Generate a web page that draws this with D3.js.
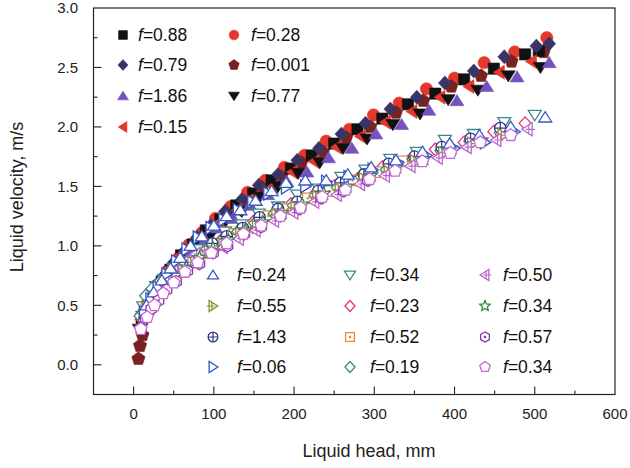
<!DOCTYPE html>
<html lang="en">
<head>
<meta charset="UTF-8" />
<title>Liquid velocity vs liquid head</title>
<script src="https://d3js.org/d3.v7.min.js"></script>
<style>
  body { margin: 0; background: #fff; font-family: Arial, "Liberation Sans", sans-serif; }
  svg { display: block; }
</style>
</head>
<body>
<svg width="630" height="468"></svg>
<script>
// ---- data (h in mm, v in m/s) ----
const xTicks = [0, 100, 200, 300, 400, 500, 600];
const yTicks = [0, 0.5, 1, 1.5, 2, 2.5, 3];

// filled markers (upper band)
const h_088 = [505, 488, 449, 412, 376, 342, 310, 279, 250, 222, 196, 172, 149, 128, 108, 90, 74, 59, 46, 35, 25, 17, 10];
const v_088 = [2.64, 2.61, 2.49, 2.40, 2.28, 2.19, 2.07, 1.98, 1.86, 1.76, 1.65, 1.55, 1.44, 1.34, 1.22, 1.13, 1.01, 0.92, 0.80, 0.70, 0.59, 0.49, 0.38];
const h_079 = [518, 502, 462, 424, 388, 353, 320, 289, 259, 231, 204, 180, 156, 135, 114, 96, 79, 64, 50, 38, 28, 19, 12];
const v_079 = [2.70, 2.68, 2.59, 2.47, 2.37, 2.25, 2.15, 2.03, 1.94, 1.82, 1.72, 1.60, 1.51, 1.39, 1.29, 1.17, 1.07, 0.96, 0.86, 0.75, 0.64, 0.53, 0.43];
const h_186 = [518, 478, 440, 403, 368, 334, 302, 272, 243, 216, 191, 167, 145, 124, 105, 88, 72, 58, 45, 34, 25, 17];
const v_186 = [2.54, 2.42, 2.34, 2.22, 2.14, 2.02, 1.94, 1.82, 1.74, 1.62, 1.54, 1.43, 1.34, 1.23, 1.15, 1.04, 0.95, 0.85, 0.75, 0.65, 0.56, 0.46];
const h_015 = [496, 456, 418, 382, 347, 314, 283, 253, 225, 198, 174, 150, 129, 108, 90, 73, 58, 44, 33, 23, 15, 9];
const v_015 = [2.55, 2.46, 2.34, 2.25, 2.13, 2.04, 1.92, 1.83, 1.71, 1.62, 1.50, 1.41, 1.30, 1.20, 1.09, 0.98, 0.92, 0.81, 0.71, 0.60, 0.49, 0.38];
const h_028 = [515, 475, 437, 400, 365, 331, 299, 269, 240, 213, 188, 164, 142, 121, 102, 85, 69, 55, 42, 31, 22, 14];
const v_028 = [2.75, 2.63, 2.54, 2.41, 2.32, 2.20, 2.10, 1.98, 1.88, 1.76, 1.66, 1.55, 1.45, 1.33, 1.23, 1.11, 1.01, 0.89, 0.79, 0.68, 0.58, 0.46];
const h_0001 = [511, 471, 433, 396, 361, 327, 295, 265, 236, 209, 184, 160, 138, 117, 98, 81, 65, 51, 38, 27, 18, 11, 8, 6];
const v_0001 = [2.63, 2.55, 2.43, 2.34, 2.22, 2.12, 2.00, 1.91, 1.79, 1.70, 1.58, 1.49, 1.37, 1.27, 1.15, 1.06, 0.94, 0.84, 0.72, 0.61, 0.48, 0.25, 0.16, 0.05];
const h_077 = [507, 467, 429, 392, 357, 323, 291, 261, 232, 205, 180, 157, 135, 115, 96, 79, 64, 50, 38, 28, 19, 12, 7];
const v_077 = [2.50, 2.43, 2.31, 2.23, 2.11, 2.02, 1.90, 1.82, 1.70, 1.61, 1.50, 1.41, 1.29, 1.21, 1.09, 1.00, 0.89, 0.80, 0.68, 0.60, 0.48, 0.39, 0.30];

// open markers (lower band)
const h_024 = [513, 470, 431, 394, 360, 327, 296, 267, 240, 214, 190, 172, 152, 133, 116, 100, 85, 71, 58, 46, 35, 25, 16];
const v_024 = [2.08, 2.00, 1.93, 1.86, 1.79, 1.72, 1.66, 1.60, 1.55, 1.55, 1.53, 1.46, 1.38, 1.30, 1.25, 1.17, 1.08, 1.00, 0.90, 0.81, 0.71, 0.61, 0.50];
const h_055 = [460, 422, 386, 351, 318, 287, 257, 229, 202, 178, 154, 133, 112, 94, 77, 62, 48, 36, 26, 17];
const v_055 = [1.93, 1.86, 1.78, 1.71, 1.62, 1.56, 1.47, 1.41, 1.32, 1.26, 1.16, 1.10, 1.01, 0.95, 0.86, 0.80, 0.71, 0.65, 0.56, 0.49];
const h_143 = [457, 420, 384, 350, 318, 287, 258, 230, 204, 180, 157, 136, 116, 98, 82, 67, 54, 42, 32, 24];
const v_143 = [1.99, 1.90, 1.83, 1.75, 1.69, 1.60, 1.53, 1.46, 1.37, 1.31, 1.24, 1.15, 1.08, 1.02, 0.92, 0.86, 0.80, 0.71, 0.65, 0.57];
const h_006 = [475, 438, 400, 365, 330, 298, 268, 240, 214, 190, 168, 148, 130, 112, 96, 80, 66, 53, 41, 30, 21, 13];
const v_006 = [1.96, 1.87, 1.82, 1.76, 1.70, 1.64, 1.58, 1.54, 1.50, 1.49, 1.44, 1.37, 1.30, 1.22, 1.15, 1.07, 0.97, 0.87, 0.76, 0.65, 0.55, 0.44];
const h_034a = [500, 462, 424, 388, 353, 320, 289, 259, 231, 204, 180, 156, 135, 114, 96, 79, 64, 50, 38, 28, 19, 12];
const v_034a = [2.10, 2.04, 1.94, 1.89, 1.79, 1.73, 1.64, 1.58, 1.48, 1.43, 1.33, 1.27, 1.18, 1.12, 1.02, 0.97, 0.87, 0.81, 0.72, 0.66, 0.56, 0.49];
const h_023 = [488, 449, 412, 376, 342, 310, 279, 250, 222, 196, 172, 149, 128, 108, 90, 74, 59, 46, 35, 25, 17, 10];
const v_023 = [2.03, 1.96, 1.87, 1.81, 1.71, 1.66, 1.56, 1.50, 1.41, 1.35, 1.25, 1.20, 1.10, 1.04, 0.95, 0.89, 0.80, 0.74, 0.66, 0.59, 0.51, 0.43];
const h_052 = [335, 303, 273, 244, 217, 192, 168, 146, 125, 106, 88, 72, 58, 45, 34, 24, 16];
const v_052 = [1.71, 1.62, 1.55, 1.46, 1.40, 1.31, 1.25, 1.16, 1.10, 1.01, 0.94, 0.86, 0.79, 0.70, 0.64, 0.55, 0.48];
const h_019 = [457, 419, 383, 348, 315, 284, 254, 226, 199, 175, 151, 130, 109, 91, 74, 59, 45, 33, 23, 15, 8];
const v_019 = [1.95, 1.88, 1.80, 1.73, 1.64, 1.58, 1.49, 1.42, 1.34, 1.27, 1.19, 1.12, 1.04, 0.97, 0.90, 0.83, 0.76, 0.70, 0.64, 0.58, 0.41];
const h_050 = [491, 452, 415, 379, 345, 313, 282, 253, 225, 199, 175, 152, 131, 111, 93, 77, 62, 49, 38, 28, 20];
const v_050 = [1.98, 1.89, 1.83, 1.74, 1.67, 1.59, 1.52, 1.43, 1.37, 1.28, 1.21, 1.13, 1.06, 0.99, 0.95, 0.93, 0.86, 0.78, 0.70, 0.62, 0.54];
const h_034b = [434, 397, 362, 328, 296, 266, 237, 210, 185, 161, 139, 118, 99, 82, 66, 52, 39, 28, 19, 11];
const v_034b = [1.89, 1.82, 1.73, 1.66, 1.59, 1.50, 1.44, 1.35, 1.28, 1.20, 1.13, 1.05, 0.98, 0.90, 0.82, 0.75, 0.67, 0.59, 0.52, 0.43];
const h_057 = [292, 262, 234, 207, 183, 159, 138, 117, 99, 82, 67, 53, 41, 31, 22, 15, 9];
const v_057 = [1.55, 1.46, 1.40, 1.31, 1.25, 1.16, 1.10, 1.00, 0.94, 0.85, 0.79, 0.70, 0.63, 0.54, 0.47, 0.39, 0.31];
const h_034c = [470, 432, 395, 360, 326, 294, 264, 235, 208, 183, 159, 137, 116, 97, 80, 64, 50, 37, 26, 17, 9];
const v_034c = [1.93, 1.87, 1.78, 1.71, 1.63, 1.56, 1.47, 1.41, 1.32, 1.25, 1.17, 1.10, 1.02, 0.94, 0.86, 0.78, 0.69, 0.60, 0.50, 0.40, 0.30];

// series table: draw order = array order
const series = [
  { id: "s028",  label: "0.28",  h: h_028,  v: v_028,  shape: "circle",    color: "#e5372b", filled: true },
  { id: "s0001", label: "0.001", h: h_0001, v: v_0001, shape: "pentagon",  color: "#7a2221", filled: true },
  { id: "s088",  label: "0.88",  h: h_088,  v: v_088,  shape: "square",    color: "#111111", filled: true },
  { id: "s079",  label: "0.79",  h: h_079,  v: v_079,  shape: "diamond",   color: "#3a3466", filled: true },
  { id: "s015",  label: "0.15",  h: h_015,  v: v_015,  shape: "triLeft",   color: "#e5372b", filled: true },
  { id: "s077",  label: "0.77",  h: h_077,  v: v_077,  shape: "triDown",   color: "#111111", filled: true },
  { id: "s186",  label: "1.86",  h: h_186,  v: v_186,  shape: "triUp",     color: "#7652bd", filled: true },
  { id: "s034a", label: "0.34",  h: h_034a, v: v_034a, shape: "triDown",   color: "#3c8b8c", filled: false },
  { id: "s023",  label: "0.23",  h: h_023,  v: v_023,  shape: "diamond",   color: "#e8347c", filled: false },
  { id: "s052",  label: "0.52",  h: h_052,  v: v_052,  shape: "squareDot", color: "#f08a36", filled: false },
  { id: "s019",  label: "0.19",  h: h_019,  v: v_019,  shape: "diamond",   color: "#3c8a86", filled: false },
  { id: "s143",  label: "1.43",  h: h_143,  v: v_143,  shape: "circlePlus",color: "#2f3487", filled: false },
  { id: "s055",  label: "0.55",  h: h_055,  v: v_055,  shape: "triRightX", color: "#8c8a2e", filled: false },
  { id: "s050",  label: "0.50",  h: h_050,  v: v_050,  shape: "triLeftX",  color: "#b968cc", filled: false },
  { id: "s034b", label: "0.34",  h: h_034b, v: v_034b, shape: "star",      color: "#3a8a3c", filled: false },
  { id: "s006",  label: "0.06",  h: h_006,  v: v_006,  shape: "triRight",  color: "#3354c4", filled: false },
  { id: "s024",  label: "0.24",  h: h_024,  v: v_024,  shape: "triUp",     color: "#3a5bc2", filled: false },
  { id: "s057",  label: "0.57",  h: h_057,  v: v_057,  shape: "hexagonDot",color: "#8a36a8", filled: false },
  { id: "s034c", label: "0.34",  h: h_034c, v: v_034c, shape: "pentagon",  color: "#c867d8", filled: false }
];

const legendTop = [["s088", "s079", "s186", "s015"], ["s028", "s0001", "s077"]];
const legendBottom = [["s024", "s055", "s143", "s006"], ["s034a", "s023", "s052", "s019"], ["s050", "s034b", "s057", "s034c"]];

// ---- layout ----
const svg = d3.select("svg");
const x = d3.scaleLinear().domain([-50, 600]).range([93.5, 615]);
const y = d3.scaleLinear().domain([-0.25, 3]).range([394.5, 8]);

// marker path for a shape of nominal width s
function shapePath(type, s) {
  const r = s / 2;
  const poly = pts => "M" + pts.map(p => p[0].toFixed(2) + "," + p[1].toFixed(2)).join("L") + "Z";
  const ngon = (n, rr, rot) => d3.range(n).map(i => {
    const a = rot + i * 2 * Math.PI / n;
    return [rr * Math.cos(a), rr * Math.sin(a)];
  });
  const t = r * 0.88;
  switch (type) {
    case "square": case "squareDot": { const q = r * 0.8; return poly([[-q, -q], [q, -q], [q, q], [-q, q]]); }
    case "diamond": return poly([[0, -r], [r * 0.92, 0], [0, r], [-r * 0.92, 0]]);
    case "triUp": return poly([[0, -t], [r, t * 0.8], [-r, t * 0.8]]);
    case "triDown": return poly([[0, t], [r, -t * 0.8], [-r, -t * 0.8]]);
    case "triLeft": case "triLeftX": return poly([[-t, 0], [t * 0.8, -r], [t * 0.8, r]]);
    case "triRight": case "triRightX": return poly([[t, 0], [-t * 0.8, -r], [-t * 0.8, r]]);
    case "circle": case "circlePlus": { const c = r * 0.88; return `M${c},0A${c},${c} 0 1,1 ${-c},0A${c},${c} 0 1,1 ${c},0Z`; }
    case "pentagon": return poly(ngon(5, r, -Math.PI / 2));
    case "hexagon": case "hexagonDot": return poly(ngon(6, r * 0.92, -Math.PI / 2));
    case "star": return poly(d3.range(10).map(i => {
      const a = -Math.PI / 2 + i * Math.PI / 5, rr = i % 2 ? r * 0.45 : r;
      return [rr * Math.cos(a), rr * Math.sin(a)];
    }));
  }
}

// inner decoration (crosses / dots)
function decoPath(type, s) {
  const r = s / 2;
  switch (type) {
    case "circlePlus": return `M${-r * 0.88},0H${r * 0.88}M0,${-r * 0.88}V${r * 0.88}`;
    case "triRightX": return `M${-r * 1.15},0H${r * 0.3}M${-r * 0.2},${-r * 0.75}V${r * 0.75}`;
    case "triLeftX": return `M${r * 1.15},0H${-r * 0.3}M${r * 0.2},${-r * 0.75}V${r * 0.75}`;
    default: return null;
  }
}
const hasDot = t => t === "squareDot" || t === "hexagonDot";

function drawMarker(g, d, s) {
  g.append("path")
    .attr("d", shapePath(d.shape, s))
    .attr("fill", d.filled ? d.color : "#fff")
    .attr("stroke", d.color)
    .attr("stroke-width", d.filled ? 0.6 : 1.3)
    .attr("stroke-linejoin", "miter");
  const dp = decoPath(d.shape, s);
  if (dp) g.append("path").attr("d", dp).attr("stroke", d.color).attr("stroke-width", 1.2).attr("fill", "none");
  if (hasDot(d.shape)) g.append("circle").attr("r", 1.3).attr("fill", d.color);
}

// ---- points ----
const plot = svg.append("g");
series.forEach(d => {
  const pts = d.h.map((h, i) => [h, d.v[i]]);
  plot.append("g").selectAll("g")
    .data(pts)
    .join("g")
    .attr("transform", p => `translate(${x(p[0])},${y(p[1])})`)
    .each(function () { drawMarker(d3.select(this), d, d.filled ? 14 : 13); });
});

// ---- frame and ticks ----
const [x0, x1] = x.range();
const [yb, yt] = y.range();
svg.append("rect")
  .attr("x", x0).attr("y", yt).attr("width", x1 - x0).attr("height", yb - yt)
  .attr("fill", "none").attr("stroke", "#222").attr("stroke-width", 1.2);

const xMinor = d3.range(50, 600, 100);
const yMinor = d3.range(0.25, 3, 0.5);
const ticks = svg.append("g").attr("stroke", "#222").attr("stroke-width", 1.1);
xTicks.slice(0, -1).forEach(t => ticks.append("line").attr("x1", x(t)).attr("x2", x(t)).attr("y1", yb).attr("y2", yb - 8));
xMinor.forEach(t => ticks.append("line").attr("x1", x(t)).attr("x2", x(t)).attr("y1", yb).attr("y2", yb - 4));
yTicks.slice(0, -1).forEach(t => ticks.append("line").attr("x1", x0).attr("x2", x0 + 8).attr("y1", y(t)).attr("y2", y(t)));
yMinor.forEach(t => ticks.append("line").attr("x1", x0).attr("x2", x0 + 4).attr("y1", y(t)).attr("y2", y(t)));

const labels = svg.append("g").attr("font-size", 15).attr("fill", "#222");
xTicks.forEach(t => labels.append("text").attr("x", x(t)).attr("y", 419).attr("text-anchor", "middle").text(t));
yTicks.forEach(t => labels.append("text").attr("x", 78).attr("y", y(t)).attr("dy", "0.36em").attr("text-anchor", "end").text(d3.format(".1f")(t)));

svg.append("text").attr("x", 369).attr("y", 457).attr("text-anchor", "middle")
  .attr("font-size", 18).attr("fill", "#222").text("Liquid head, mm");
svg.append("text").attr("transform", "translate(23,197) rotate(-90)").attr("text-anchor", "middle")
  .attr("font-size", 18).attr("fill", "#222").text("Liquid velocity, m/s");

// ---- legends ----
const byId = Object.fromEntries(series.map(d => [d.id, d]));
function legend(cols, colMarkerX, colTextX, rowY, size) {
  cols.forEach((col, ci) => col.forEach((id, ri) => {
    const d = byId[id];
    const g = svg.append("g").attr("transform", `translate(${colMarkerX[ci]},${rowY[ri]})`);
    drawMarker(g, d, size);
    const tx = svg.append("text").attr("x", colTextX[ci]).attr("y", rowY[ri]).attr("dy", "0.36em")
      .attr("font-size", 17.5).attr("fill", "#111");
    tx.append("tspan").attr("font-style", "italic").text("f");
    tx.append("tspan").text("=" + d.label);
  }));
}
legend(legendTop, [123, 234], [138, 251], [35, 65, 96, 127], 11);
legend(legendBottom, [213, 350, 485], [237, 370, 503], [275, 306, 337, 367], 11);
</script>
</body>
</html>
